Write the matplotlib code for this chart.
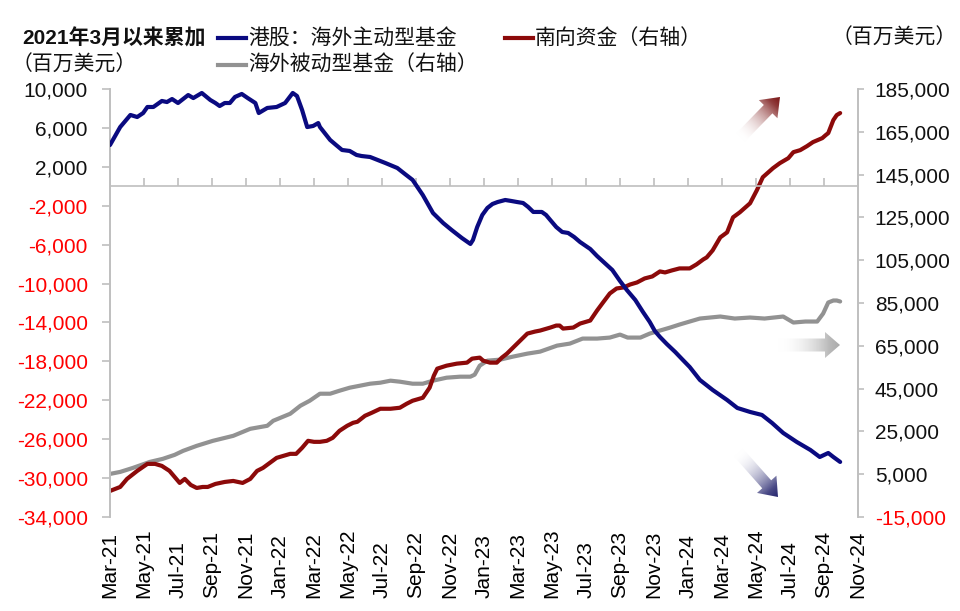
import numpy as np
import matplotlib
matplotlib.use('Agg')
import matplotlib.pyplot as plt
from matplotlib.patches import FancyArrow
from matplotlib.lines import Line2D

plt.rcParams['font.family'] = ['Liberation Sans', 'Noto Sans CJK SC']

# x axis: months since Mar-21
month_labels = ['Mar-21', 'May-21', 'Jul-21', 'Sep-21', 'Nov-21', 'Jan-22', 'Mar-22',
                'May-22', 'Jul-22', 'Sep-22', 'Nov-22', 'Jan-23', 'Mar-23', 'May-23',
                'Jul-23', 'Sep-23', 'Nov-23', 'Jan-24', 'Mar-24', 'May-24', 'Jul-24',
                'Sep-24', 'Nov-24']

# 港股：海外主动型基金 (left axis)
active_m = [0, 0.6, 1.2, 1.6, 1.95, 2.2, 2.55, 3.05, 3.35, 3.65, 4.0, 4.6, 4.9, 5.4, 5.9,
            6.2, 6.45, 6.75, 7.05, 7.35, 7.75, 8.1, 8.55, 8.75, 9.25, 9.8, 10.3, 10.75,
            11.0, 11.3, 11.6, 11.95, 12.25, 12.35, 12.95, 13.3, 13.65, 14.1, 14.5, 14.8,
            15.3, 15.75, 16.2, 16.9, 17.35, 17.8, 18.4, 19.0, 19.6, 20.1, 20.7, 21.2,
            21.35, 21.6, 21.9, 22.2, 22.5, 22.8, 23.25, 23.6, 23.95, 24.3, 24.6, 24.9,
            25.4, 25.65, 25.9, 26.25, 26.6, 26.95, 27.3, 27.65, 28.25, 28.65, 29.1, 29.55,
            30.0, 30.4, 30.9, 31.35, 31.75, 32.05, 32.35, 32.75, 33.25, 33.7, 34.1, 34.7,
            35.45, 36.3, 36.9, 37.65, 38.35, 38.95, 39.6, 40.4, 41.2, 41.75, 42.25, 42.55,
            42.95]
active_v = [4240, 6090, 7330, 7120, 7530, 8150, 8150, 8770, 8660, 8970, 8560, 9380, 9070,
            9590, 8870, 8560, 8250, 8560, 8560, 9180, 9490, 9070, 8560, 7530, 8050, 8150,
            8560, 9590, 9280, 7840, 6090, 6200, 6500, 6090, 4760, 4240, 3730, 3630, 3220,
            3110, 3010, 2700, 2390, 1880, 1260, 650, -900, -2750, -3780, -4500, -5320,
            -5930, -5520, -4190, -2950, -2230, -1820, -1620, -1410, -1510, -1620, -1720,
            -2130, -2640, -2640, -2950, -3470, -4190, -4700, -4800, -5210, -5730, -6450,
            -7170, -7890, -8610, -9740, -10660, -11690, -12920, -13950, -14880, -15490,
            -16210, -17040, -17860, -18580, -19910, -20940, -21970, -22790, -23200, -23510,
            -24340, -25360, -26290, -27110, -27830, -27420, -27830, -28340]

# 南向资金 (right axis)
south_m = [0, 0.6, 1.0, 1.6, 2.2, 2.65, 3.05, 3.5, 3.8, 4.1, 4.4, 4.75, 5.1, 5.45, 5.75,
           6.2, 6.75, 7.25, 7.8, 8.25, 8.65, 9.0, 9.4, 9.8, 10.2, 10.6, 10.95, 11.3, 11.65,
           12.0, 12.35, 12.75, 13.1, 13.5, 13.95, 14.3, 14.55, 15.0, 15.4, 15.9, 16.5,
           17.05, 17.45, 17.8, 18.4, 18.8, 19.05, 19.25, 19.8, 20.4, 21.0, 21.3, 21.75,
           21.95, 22.35, 22.75, 23.05, 23.35, 23.95, 24.55, 25.0, 25.3, 25.9, 26.25, 26.45,
           26.65, 27.25, 27.65, 28.25, 28.65, 29.0, 29.4, 29.8, 30.2, 30.6, 31.0, 31.45,
           31.9, 32.35, 32.65, 33.05, 33.5, 34.1, 34.5, 34.9, 35.1, 35.45, 35.9, 36.3,
           36.65, 37.05, 37.65, 38.05, 38.4, 39.0, 39.4, 39.9, 40.2, 40.6, 41.0, 41.35,
           41.9, 42.1, 42.25, 42.55, 42.75, 42.95]
south_v = [-2830, -960, 2790, 6540, 9820, 9820, 8880, 6540, 3730, 920, 2790, -20, -1430,
           -960, -960, 450, 1380, 1850, 920, 2790, 6540, 7950, 10290, 12630, 13570, 14510,
           14510, 17320, 20600, 20120, 20120, 20600, 22000, 25280, 27620, 29020, 29490,
           32300, 33710, 35580, 35580, 36050, 37920, 39330, 40730, 45420, 51040, 54320,
           55720, 56660, 57130, 59000, 59470, 58060, 57130, 57130, 59470, 61340, 66030,
           70710, 71650, 72120, 73520, 74460, 74460, 73050, 73520, 75390, 76800, 81480,
           85230, 89450, 91790, 92260, 93660, 94600, 96470, 97410, 99750, 99280, 100220,
           101160, 101160, 103030, 105370, 106310, 109590, 115680, 118020, 125045, 127390,
           131600, 137690, 143780, 148000, 150340, 152680, 155490, 156430, 158300, 160180,
           162050, 163450, 164390, 170480, 172820, 173760]

# 海外被动型基金 (right axis)
passive_m = [0, 0.6, 1.35, 2.35, 3.1, 3.8, 4.3, 5.1, 6.05, 7.25, 8.25, 9.25, 9.6, 10.6,
             11.2, 11.75, 12.35, 12.95, 13.5, 14.1, 14.7, 15.3, 15.9, 16.5, 17.05, 17.8,
             18.4, 19.0, 19.8, 20.6, 21.2, 21.45, 21.75, 22.2, 22.95, 23.7, 24.55, 25.3,
             26.3, 27.05, 27.8, 28.65, 29.4, 30.0, 30.45, 31.2, 31.75, 32.35, 32.95, 33.5,
             34.1, 34.7, 35.9, 36.75, 37.65, 38.5, 39.6, 40.2, 40.9, 41.6, 41.95, 42.25,
             42.55, 42.75, 42.95]
passive_v = [5130, 6070, 7950, 10760, 12160, 14030, 15910, 18250, 20590, 22930, 26210,
             27620, 29960, 33240, 36990, 39330, 42610, 42610, 44010, 45420, 46350, 47290,
             47760, 48700, 48230, 47290, 47290, 48700, 50100, 50570, 50570, 51510, 55720,
             58060, 58530, 59940, 61340, 62280, 65090, 66030, 68370, 68370, 68840, 70240,
             68840, 68840, 70710, 72120, 73520, 74930, 76340, 77740, 78680, 77740, 78210,
             77740, 78680, 75870, 76340, 76340, 80080, 85230, 86170, 86170, 85700]

left_ticks = list(range(10000, -34001, -4000))
right_ticks = list(range(185000, -15001, -20000))

c_blue = '#0A0A80'
c_red = '#8C0A0A'
c_grey = '#929292'
c_axis = '#BFBFBF'

fig = plt.figure(figsize=(9.6, 6.11), dpi=100)
ax = fig.add_axes([110/960, 1-517/611, 748/960, 428/611])
ax2 = ax.twinx()

ax.set_xlim(0, 44)
ax.set_ylim(-34000, 10000)
ax2.set_ylim(-15000, 185000)

# zero line with upward tick marks
tick_pos = np.arange(0, 45, 2)
ax.axhline(0, color=c_axis, lw=1.2, zorder=1)
ax.plot(tick_pos, np.zeros(len(tick_pos)), ls='none', marker=2, ms=6, mew=1.2,
        color=c_axis, zorder=1)

ax2.plot(passive_m, passive_v, color=c_grey, lw=3, solid_capstyle='round')
ax2.plot(south_m, south_v, color=c_red, lw=3, solid_capstyle='round')
ax.plot(active_m, active_v, color=c_blue, lw=3, solid_capstyle='round', zorder=3)
ax.set_zorder(ax2.get_zorder() + 1)
ax.patch.set_visible(False)

for a in (ax, ax2):
    for s in ('top', 'bottom'):
        a.spines[s].set_visible(False)
    for s in ('left', 'right'):
        a.spines[s].set_color(c_axis)
        a.spines[s].set_linewidth(1.2)

ax.set_yticks(left_ticks)
ax.set_yticklabels([f'{v:,}' for v in left_ticks])
for lab, v in zip(ax.get_yticklabels(), left_ticks):
    lab.set_color('red' if v < 0 else '#111111')
ax.tick_params(axis='y', direction='out', length=6, width=1.2, color=c_axis,
               labelsize=15, pad=10)

ax2.set_yticks(right_ticks)
ax2.set_yticklabels([f'{v:,}' for v in right_ticks])
for lab, v in zip(ax2.get_yticklabels(), right_ticks):
    lab.set_color('red' if v < 0 else '#111111')
ax2.tick_params(axis='y', direction='out', length=4, width=1.2, color=c_axis,
                labelsize=15, pad=8)

ax.set_xticks(tick_pos)
ax.set_xticklabels(month_labels, rotation=90, va='bottom', ha='center')
ax.tick_params(axis='x', length=0, labelsize=15, pad=58)

# titles and legend
def fy(py):
    return 1 - py / 611

fig.text(22/960, fy(38), '2021年3月以来累加', fontsize=15, fontweight='bold',
         va='center', ha='left', color='#111111')
fig.text(12/960, fy(65), '（百万美元）', fontsize=15, va='center', ha='left', color='#111111')
fig.text(957/960, fy(38), '（百万美元）', fontsize=15, va='center', ha='right', color='#111111')

legend_items = [(218, 38, c_blue, '港股：海外主动型基金'),
                (218, 65, c_grey, '海外被动型基金（右轴）'),
                (505, 38, c_red, '南向资金（右轴）')]
for px, py, col, txt in legend_items:
    fig.add_artist(Line2D([px/960, (px+28)/960], [fy(py), fy(py)], color=col, lw=3,
                          transform=fig.transFigure))
    fig.text((px+30)/960, fy(py), txt, fontsize=15, va='center', ha='left', color='#111111')

# gradient arrows
ov = fig.add_axes([0, 0, 1, 1], zorder=10)
ov.set_xlim(0, 960)
ov.set_ylim(611, 0)
ov.axis('off')


def grad_arrow(x0, y0, x1, y1, width, head_w, head_len, color):
    dx, dy = x1 - x0, y1 - y0
    arr = FancyArrow(x0, y0, dx, dy, width=width, head_width=head_w, head_length=head_len,
                     length_includes_head=True, fc='none', ec='none')
    ov.add_patch(arr)
    xmin, xmax = min(x0, x1) - head_w, max(x0, x1) + head_w
    ymin, ymax = min(y0, y1) - head_w, max(y0, y1) + head_w
    xs = np.linspace(xmin, xmax, 200)
    ys = np.linspace(ymin, ymax, 200)
    X, Y = np.meshgrid(xs, ys)
    t = ((X - x0) * dx + (Y - y0) * dy) / (dx * dx + dy * dy)
    t = np.clip(t, 0, 1)
    rgb = np.array(matplotlib.colors.to_rgb(color))
    img = np.ones((200, 200, 4))
    for k in range(3):
        img[..., k] = 1 - t * (1 - rgb[k])
    img[..., 3] = np.clip(t * 1.2, 0, 1)
    im = ov.imshow(img, extent=[xmin, xmax, ymax, ymin], origin='upper', aspect='auto',
                   interpolation='bilinear')
    im.set_clip_path(arr)


grad_arrow(740, 138, 780, 97, 12, 26, 17, '#7A1515')
grad_arrow(778, 345, 840, 345, 13, 26, 15, '#ABABAB')
grad_arrow(738, 452, 778, 497, 12, 26, 17, '#25256E')
ov.set_xlim(0, 960)
ov.set_ylim(611, 0)

fig.savefig('out.png', dpi=100)
